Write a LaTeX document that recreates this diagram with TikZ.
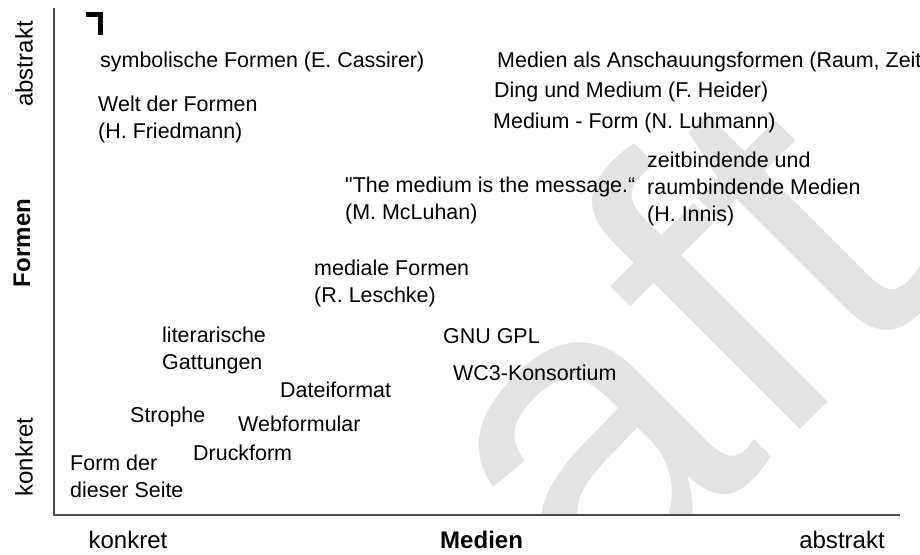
\documentclass[tikz,border=0pt]{standalone}
\usepackage{fontspec}
\setmainfont{Liberation Sans}
\newfontfamily\plainq{Liberation Sans}
\usetikzlibrary{positioning}

\tikzset{
  lbl/.style={anchor=west, inner sep=0pt, align=left, font=\fontsize{18.3}{23}\selectfont},
  axlbl/.style={inner sep=0pt, font=\fontsize{20.5}{24}\selectfont},
  axis/.style={draw=gray!60!black, line width=1pt},
}

\begin{document}
\begin{tikzpicture}[x=0.03cm, y=-0.03cm]
    \useasboundingbox (0,0) rectangle (920,554);
    % Wasserzeichen
    \begin{scope}
      \clip (54,0) rectangle (920,515);
      \node[rotate=45, text=gray!22, font=\fontsize{380}{380}\selectfont] (wm) at (660,345) {aft};
    \end{scope}

    % Achsen
    \coordinate (O) at (54,515);
    \coordinate (ytop) at (54,8);
    \coordinate (xend) at (900,515);
    \draw[axis] (ytop) -- (O) -- (xend);
    \draw[line width=4.2pt] (86,14.5) -- (100.5,14.5) -- (100.5,35);

    % Achsenbeschriftung
    \node[axlbl, rotate=90] (yabs) at (24,64) {abstrakt};
    \node[axlbl, rotate=90, font=\fontsize{20.5}{24}\selectfont\bfseries] (yform) at (22,243) {Formen};
    \node[axlbl, rotate=90] (ykon) at (24,457) {konkret};
    \node[axlbl] (xkon) at (128,540) {konkret};
    \node[axlbl, anchor=west, font=\fontsize{20.5}{24}\selectfont\bfseries] (xmed) at (440,540) {Medien};
    \node[axlbl] (xabs) at (842,540) {abstrakt};

    % Begriffe
    \node[lbl] (cassirer) at (100,62) {symbolische Formen (E. Cassirer)};
    \node[lbl] (anschau) at (497,62) {Medien als Anschauungsformen (Raum, Zeit};
    \node[lbl] (friedmann) at (98,119.5) {Welt der Formen\\(H. Friedmann)};
    \node[lbl] (heider) at (494,92) {Ding und Medium (F. Heider)};
    \node[lbl] (luhmann) at (493,123) {Medium - Form (N. Luhmann)};
    \node[lbl] (innis) at (647,189) {zeitbindende und\\raumbindende Medien\\(H. Innis)};
    \node[lbl] (mcluhan) at (345,200) {{\plainq"}The medium is the message.“\\(M. McLuhan)};
    \node[lbl] (leschke) at (314,283) {mediale Formen\\(R. Leschke)};
    \node[lbl] (gattung) at (162,350) {literarische\\Gattungen};
    \node[lbl] (gpl) at (443,336) {GNU GPL};
    \node[lbl] (wc3) at (453,373) {WC3-Konsortium};
    \node[lbl] (datei) at (280,390) {Dateiformat};
    \node[lbl] (strophe) at (130,417) {Strophe};
    \node[lbl] (webform) at (238,424) {Webformular};
    \node[lbl] (druck) at (193,453) {Druckform};
    \node[lbl] (seite) at (70,476) {Form der\\dieser Seite};
\end{tikzpicture}
\end{document}
